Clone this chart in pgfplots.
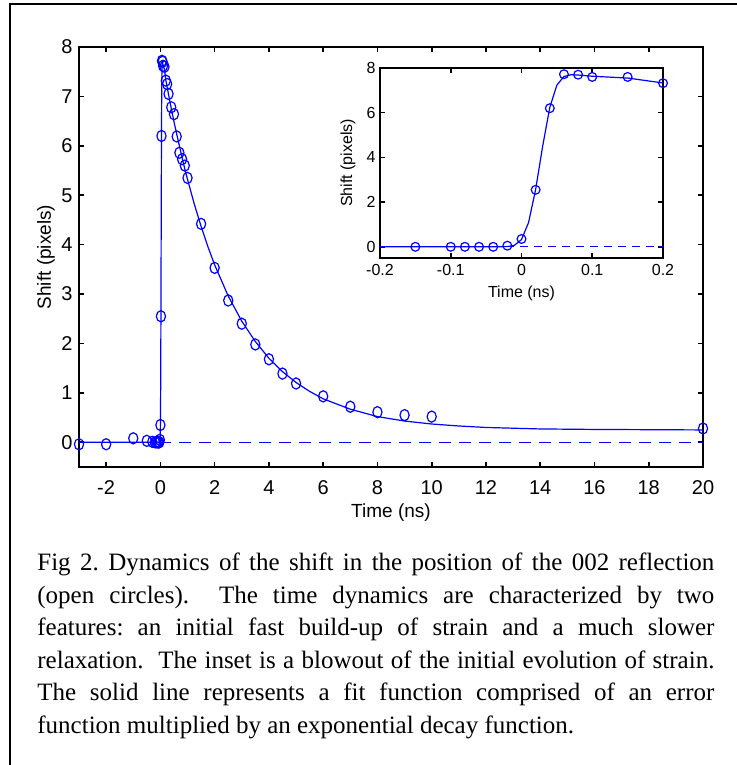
\documentclass[border=0pt]{standalone}
\usepackage{fontspec}
\usepackage{pgfplots}
\pgfplotsset{compat=1.18}
\setmainfont{Liberation Serif}
\newfontfamily\arialc{Liberation Sans}
\newfontfamily\timesc{Liberation Serif}
\definecolor{mblue}{RGB}{0,0,255}

\pgfplotsset{
  matlab/.style={
    scale only axis, clip=false,
    axis line style={line width=0.8pt},
    every tick/.style={line width=0.8pt,black},
    tick align=inside, major tick length=2.5pt,
    xlabel style={at={(axis description cs:0.5,0)},anchor=center},
    ylabel style={at={(axis description cs:0,0.5)},anchor=center},
  },
}

\begin{document}
\frenchspacing
\begin{tikzpicture}
\path[use as bounding box] (0,0) rectangle (368.5pt,382.5pt);
\draw[line width=1pt] (5pt,0) -- (5pt,380.5pt) -- (368.5pt,380.5pt);

% main panel
\begin{axis}[matlab,
  at={(39.5pt,149pt)}, anchor=south west,
  width=312pt, height=210pt,
  xmin=-3, xmax=20, ymin=-0.5, ymax=8,
  xtick={-2,0,2,4,6,8,10,12,14,16,18,20},
  xticklabels={-2,0,2,4,6,8,10,12,14,16,18,20},
  ytick={0,1,2,3,4,5,6,7,8},
  yticklabels={0,1,2,3,4,5,6,7,8},
  ticklabel style={font=\arialc\fontsize{10}{12}\selectfont},
  xticklabel style={anchor=center,yshift=-10.5pt},
  yticklabel style={anchor=east,inner sep=0pt,xshift=-3pt},
  label style={font=\arialc\fontsize{9.5}{11}\selectfont},
  xlabel={Time (ns)}, ylabel={Shift (pixels)},
  xlabel style={yshift=-23pt},
  ylabel style={yshift=16.5pt},
]
\addplot[mblue, line width=0.6pt, dash pattern=on 5.8pt off 4.2pt] coordinates {(-3,0) (20,0)};
\addplot[mblue, line width=0.6pt] coordinates {
 (-3,0) (-0.04,0) (-0.02,0.01) (-0.01,0.067) (0,0.326) (0.01,1.087) (0.02,2.572)
 (0.03,4.518) (0.04,6.235) (0.05,7.236) (0.06,7.618) (0.07,7.696) (0.08,7.685)
 (0.1,7.63) (0.15,7.55) (0.2,7.33) (0.3,7.04) (0.4,6.76) (0.5,6.49) (0.6,6.24)
 (0.7,6.00) (0.8,5.76) (0.9,5.53) (1.0,5.32) (1.25,4.82) (1.5,4.37) (1.75,3.96)
 (2,3.59) (2.5,2.96) (3,2.45) (3.5,2.04) (4,1.70) (4.5,1.43) (5,1.21) (5.5,1.03)
 (6,0.88) (7,0.67) (8,0.52) (9,0.43) (10,0.37) (11,0.33) (12,0.30) (14,0.27)
 (16,0.26) (20,0.25)};
\addplot[only marks, mblue, mark=o, mark size=2.8pt,
  mark options={xscale=0.82,line width=0.6pt}] coordinates {
 (-3,-0.04) (-2,-0.04) (-1,0.08) (-0.5,0.03) (-0.3,0.01) (-0.2,0)
 (-0.15,0) (-0.1,0) (-0.08,0) (-0.06,0) (-0.04,0) (-0.02,0.05)
 (0,0.35) (0.02,2.55) (0.04,6.2) (0.06,7.72) (0.08,7.7) (0.1,7.62) (0.15,7.6)
 (0.2,7.32) (0.25,7.25) (0.3,7.05) (0.4,6.78) (0.5,6.64) (0.6,6.19) (0.7,5.86)
 (0.8,5.73) (0.9,5.6) (1.0,5.35) (1.5,4.42) (2,3.53) (2.5,2.87) (3,2.40)
 (3.5,1.98) (4,1.68) (4.5,1.39) (5,1.19) (6,0.93) (7,0.72) (8,0.61) (9,0.55)
 (10,0.52) (20,0.28)};
\end{axis}

% inset
\begin{axis}[matlab,
  at={(190pt,253.5pt)}, anchor=south west,
  width=141.5pt, height=95pt,
  axis background/.style={fill=white},
  xmin=-0.2, xmax=0.2, ymin=-0.5, ymax=8,
  xtick={-0.2,-0.1,0,0.1,0.2},
  xticklabels={-0.2,-0.1,0,0.1,0.2},
  ytick={0,2,4,6,8},
  yticklabels={0,2,4,6,8},
  ticklabel style={font=\arialc\fontsize{8}{10}\selectfont},
  xticklabel style={anchor=center,yshift=-6pt},
  yticklabel style={anchor=east,inner sep=0pt,xshift=-2pt},
  label style={font=\arialc\fontsize{8}{10}\selectfont},
  xlabel={Time (ns)}, ylabel={Shift (pixels)},
  xlabel style={yshift=-17.5pt},
  ylabel style={yshift=16pt},
]
\addplot[mblue, line width=0.6pt, dash pattern=on 4pt off 3pt] coordinates {(-0.2,0) (0.2,0)};
\addplot[mblue, line width=0.6pt] coordinates {
 (-0.2,0) (-0.04,0) (-0.02,0.01) (-0.01,0.067) (0,0.326) (0.01,1.087) (0.02,2.572)
 (0.03,4.518) (0.04,6.235) (0.05,7.236) (0.06,7.618) (0.07,7.696) (0.08,7.685)
 (0.1,7.63) (0.15,7.55) (0.2,7.33)};
\addplot[only marks, mblue, mark=o, mark size=2.2pt,
  mark options={line width=0.6pt}] coordinates {
 (-0.15,0) (-0.1,0) (-0.08,0) (-0.06,0) (-0.04,0) (-0.02,0.05)
 (0,0.35) (0.02,2.55) (0.04,6.2) (0.06,7.72) (0.08,7.7) (0.1,7.6) (0.15,7.6)
 (0.2,7.32)};
\end{axis}

% caption
\node[anchor=north west, inner sep=0pt, text width=338.5pt, align=justify,
  font=\timesc\fontsize{12.5}{16.25}\selectfont] at (18.5pt,106pt) {%
Fig 2. Dynamics of the shift in the position of the 002 reflection\linebreak
(open circles).\ \ The time dynamics are characterized by two\linebreak
features: an initial fast build-up of strain and a much slower\linebreak
relaxation.\ \ The inset is a blowout of the initial evolution of strain.\linebreak
The solid line represents a fit function comprised of an error\linebreak
function multiplied by an exponential decay function.};
\end{tikzpicture}
\end{document}
